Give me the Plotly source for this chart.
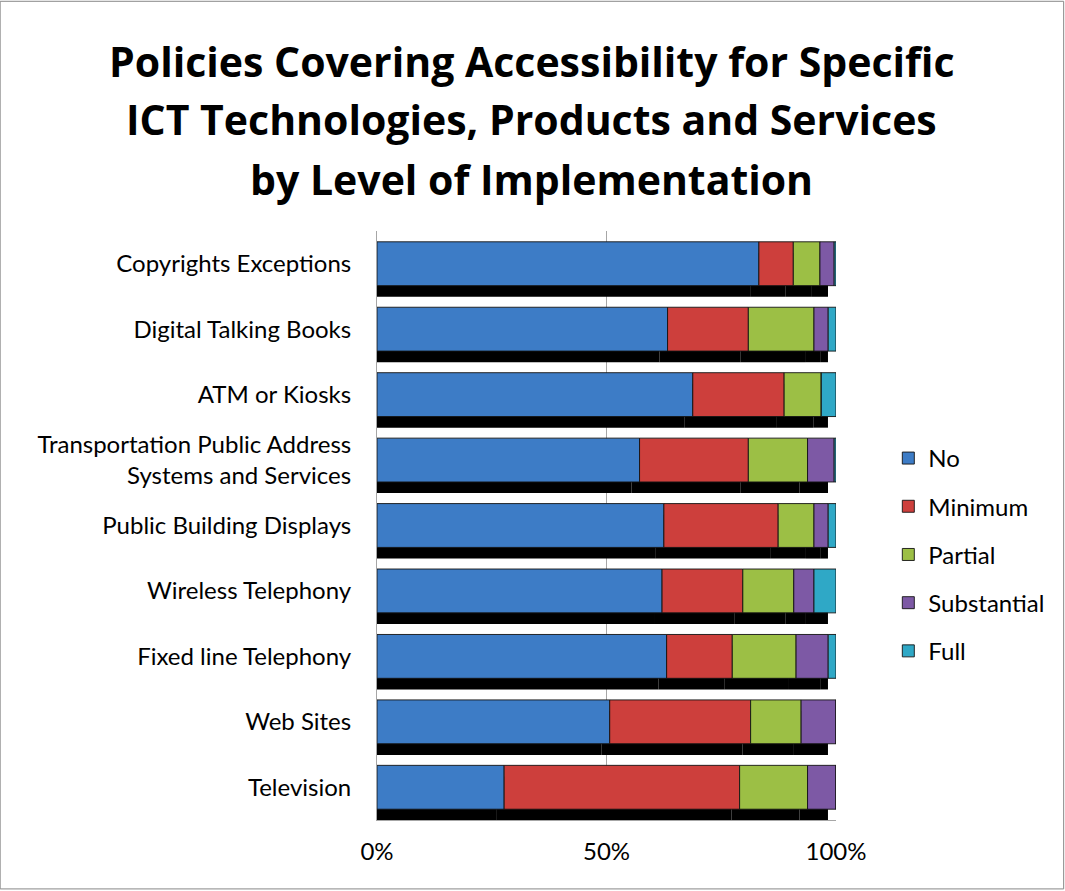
import numpy as np
import plotly.graph_objects as go

categories = [
    "Copyrights Exceptions",
    "Digital Talking Books",
    "ATM or Kiosks",
    "Transportation Public Address<br>Systems and Services",
    "Public Building Displays",
    "Wireless Telephony",
    "Fixed line Telephony",
    "Web Sites",
    "Television",
]

no_vals          = [83.2, 63.3, 68.8, 57.2, 62.5, 62.1, 63.1, 50.7, 27.7]
minimum_vals     = [7.5, 17.6, 19.9, 23.7, 24.9, 17.6, 14.3, 30.7, 51.3]
partial_vals     = [5.8, 14.3, 8.1, 12.9, 7.8, 11.1, 13.9, 11.0, 14.8]
substantial_vals = [3.1, 3.1, 0.0, 5.8, 3.1, 4.4, 7.0, 7.6, 6.2]
full_vals        = [0.4, 1.7, 3.2, 0.4, 1.7, 4.8, 1.7, 0.0, 0.0]

series_names = ["No", "Minimum", "Partial", "Substantial", "Full"]
series_vals = [no_vals, minimum_vals, partial_vals, substantial_vals, full_vals]
colors = ["#3D7CC6", "#CD3F3C", "#9CBF45", "#7D59A5", "#2FA8C6"]

tick_vals = [0, 50, 100]
tick_text = ["0%", "50%", "100%"]

FONT = "Lato"
TITLE_FONT = "Open Sans"
BAR_W = 0.67
SHADOW_DY = 0.17
SHADOW_DX = 1.75

fig = go.Figure()

vals = np.array(series_vals, dtype=float)
bases = np.vstack([np.zeros(vals.shape[1]), np.cumsum(vals, axis=0)[:-1]])

# drop shadows
for i, name in enumerate(series_names):
    fig.add_trace(go.Bar(
        y=categories, x=vals[i], base=bases[i] - SHADOW_DX, orientation="h",
        width=BAR_W, offset=-BAR_W / 2 + SHADOW_DY,
        marker=dict(color="black", line=dict(width=0)),
        showlegend=False, hoverinfo="skip",
    ))

# bars
for i, name in enumerate(series_names):
    fig.add_trace(go.Bar(
        y=categories, x=vals[i], base=bases[i], orientation="h", name=name,
        width=BAR_W, offset=-BAR_W / 2, legendgroup=name,
        marker=dict(color=colors[i], line=dict(color="rgba(20,20,20,0.9)", width=1)),
    ))

title_lines = [
    "Policies Covering Accessibility for Specific",
    "ICT Technologies, Products and Services",
    "by Level of Implementation",
]
title_y = [1.288, 1.190, 1.088]
for t, yy in zip(title_lines, title_y):
    fig.add_annotation(
        text="<b>%s</b>" % t, xref="paper", yref="paper", x=0.3375, y=yy,
        xanchor="center", yanchor="middle", showarrow=False,
        font=dict(family=TITLE_FONT, size=41, color="black"),
    )

fig.add_shape(
    type="rect", xref="paper", yref="paper",
    x0=-0.821, x1=1.496, y0=-0.117, y1=1.390,
    line=dict(color="#888888", width=1), fillcolor="rgba(0,0,0,0)", layer="below",
)

fig.update_layout(
    width=1065, height=891,
    margin=dict(l=377, r=229, t=231, b=71),
    barmode="overlay",
    paper_bgcolor="white", plot_bgcolor="white",
    font=dict(family=FONT, size=24, color="black"),
    showlegend=True,
    legend=dict(
        x=1.114, y=0.652, xanchor="left", yanchor="top",
        traceorder="grouped", tracegroupgap=14,
        font=dict(family=FONT, size=24, color="black"),
        bgcolor="rgba(0,0,0,0)",
    ),
    xaxis=dict(
        range=[0, 100], tickvals=tick_vals, ticktext=tick_text,
        showgrid=True, gridcolor="#A6A6A6", gridwidth=1,
        showline=True, linecolor="#A6A6A6", linewidth=1,
        zeroline=False, ticks="", ticklabelstandoff=10,
        tickfont=dict(family=FONT, size=24, color="black"),
        fixedrange=True,
    ),
    yaxis=dict(
        type="category", range=[len(categories) - 0.5, -0.5],
        showgrid=False, showline=True, linecolor="#A6A6A6", linewidth=1,
        ticks="", ticklabelstandoff=20,
        tickfont=dict(family=FONT, size=24, color="black"),
        fixedrange=True,
    ),
)

fig.write_html(
    "out.html",
    config={"displayModeBar": False},
    post_script="document.body.style.margin='0';",
)
